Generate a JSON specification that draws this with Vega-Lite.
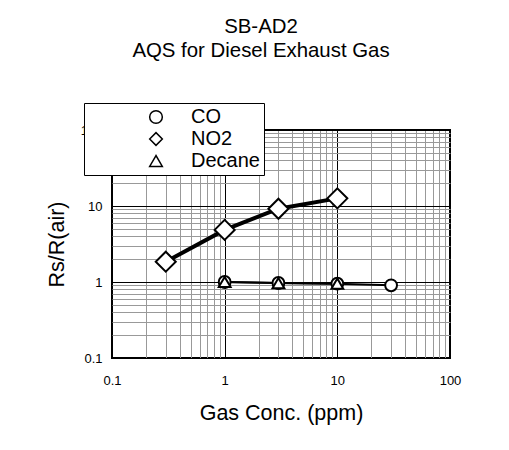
{
  "$schema": "https://vega.github.io/schema/vega-lite/v6.json",
  "autosize": "none",
  "width": 338,
  "height": 228,
  "padding": {"left": 112, "top": 130, "right": 59, "bottom": 92},
  "background": "white",
  "title": {
    "text": ["SB-AD2", "AQS for Diesel Exhaust Gas"],
    "font": "Liberation Sans",
    "fontSize": 20.4,
    "fontWeight": "normal",
    "color": "black",
    "lineHeight": 24,
    "anchor": "middle",
    "frame": "group",
    "dx": -20,
    "offset": 41
  },
  "config": {
    "view": {"stroke": "black", "strokeWidth": 2},
    "font": "Liberation Sans"
  },
  "data": {
    "values": [
      {"gas": "NO2", "conc": 0.3, "ratio": 1.85},
      {"gas": "NO2", "conc": 1, "ratio": 4.85},
      {"gas": "NO2", "conc": 3, "ratio": 9.2},
      {"gas": "NO2", "conc": 10, "ratio": 12.6},
      {"gas": "CO", "conc": 1, "ratio": 1.0},
      {"gas": "CO", "conc": 3, "ratio": 0.97},
      {"gas": "CO", "conc": 10, "ratio": 0.95},
      {"gas": "CO", "conc": 30, "ratio": 0.905},
      {"gas": "Decane", "conc": 1, "ratio": 1.0},
      {"gas": "Decane", "conc": 3, "ratio": 0.97},
      {"gas": "Decane", "conc": 10, "ratio": 0.95}
    ]
  },
  "encoding": {
    "x": {
      "field": "conc",
      "type": "quantitative",
      "scale": {"type": "log", "domain": [0.1, 100], "nice": false},
      "axis": {
        "title": "Gas Conc. (ppm)",
        "titleFont": "Liberation Sans",
        "titleFontSize": 21.5,
        "titleFontWeight": "normal",
        "titleColor": "black",
        "titlePadding": 15,
        "values": [0.1, 0.2, 0.3, 0.4, 0.5, 0.6, 0.7, 0.8, 0.9, 1, 2, 3, 4, 5, 6, 7, 8, 9, 10, 20, 30, 40, 50, 60, 70, 80, 90, 100],
        "labelExpr": "datum.value == 0.1 ? '0.1' : datum.value == 1 ? '1' : datum.value == 10 ? '10' : datum.value == 100 ? '100' : ''",
        "labelFont": "Liberation Sans",
        "labelFontSize": 13,
        "labelColor": "black",
        "labelPadding": 16,
        "labelFlush": false,
        "labelOverlap": false,
        "ticks": false,
        "domain": false,
        "grid": true,
        "gridColor": {"condition": {"test": "datum.value == 0.1 || datum.value == 1 || datum.value == 10 || datum.value == 100", "value": "black"}, "value": "#999999"},
        "gridOpacity": 1,
        "gridWidth": 1
      }
    },
    "y": {
      "field": "ratio",
      "type": "quantitative",
      "scale": {"type": "log", "domain": [0.1, 100], "nice": false},
      "axis": {
        "title": "Rs/R(air)",
        "titleFont": "Liberation Sans",
        "titleFontSize": 21.5,
        "titleFontWeight": "normal",
        "titleColor": "black",
        "titlePadding": 12,
        "values": [0.1, 0.2, 0.3, 0.4, 0.5, 0.6, 0.7, 0.8, 0.9, 1, 2, 3, 4, 5, 6, 7, 8, 9, 10, 20, 30, 40, 50, 60, 70, 80, 90, 100],
        "labelExpr": "datum.value == 0.1 ? '0.1' : datum.value == 1 ? '1' : datum.value == 10 ? '10' : datum.value == 100 ? '100' : ''",
        "labelFont": "Liberation Sans",
        "labelFontSize": 13,
        "labelColor": "black",
        "labelPadding": 10,
        "labelFlush": false,
        "labelOverlap": false,
        "ticks": false,
        "domain": false,
        "grid": true,
        "gridColor": {"condition": {"test": "datum.value == 0.1 || datum.value == 1 || datum.value == 10 || datum.value == 100", "value": "black"}, "value": "#999999"},
        "gridOpacity": 1,
        "gridWidth": 1
      }
    }
  },
  "layer": [
    {
      "mark": {"type": "line", "color": "black"},
      "encoding": {
        "detail": {"field": "gas", "type": "nominal"},
        "strokeWidth": {"condition": {"test": "datum.gas === 'NO2'", "value": 4}, "value": 2}
      }
    },
    {
      "mark": {"type": "point", "filled": true, "fill": "white", "stroke": "black", "strokeWidth": 2, "opacity": 1},
      "encoding": {
        "shape": {
          "field": "gas",
          "type": "nominal",
          "scale": {"domain": ["CO", "NO2", "Decane"], "range": ["circle", "diamond", "triangle-up"]},
          "legend": {
            "title": null,
            "orient": "none",
            "legendX": -28,
            "legendY": -27,
            "padding": 4,
            "strokeColor": "black",
            "fillColor": "white",
            "labelFont": "Liberation Sans",
            "labelFontSize": 20,
            "labelColor": "black",
            "labelOffset": 25,
            "symbolOffset": 58,
            "symbolSize": 160,
            "rowPadding": 2
          }
        },
        "size": {"condition": {"test": "datum.gas === 'NO2'", "value": 400}, "value": 140}
      }
    }
  ]
}
